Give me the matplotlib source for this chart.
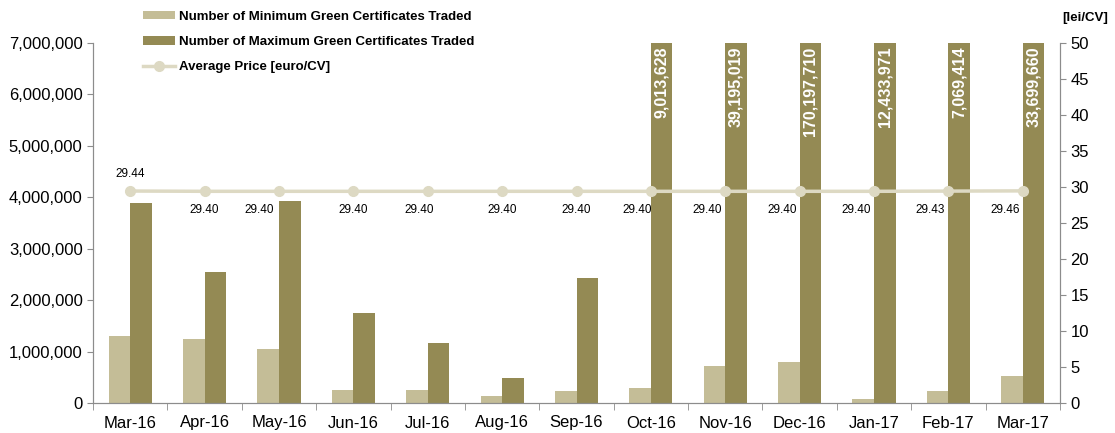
import numpy as np
import matplotlib
matplotlib.use("Agg")
import matplotlib.pyplot as plt

plt.rcParams['font.family'] = ['Liberation Sans', 'DejaVu Sans']

# data
months = ["Mar-16", "Apr-16", "May-16", "Jun-16", "Jul-16", "Aug-16", "Sep-16",
          "Oct-16", "Nov-16", "Dec-16", "Jan-17", "Feb-17", "Mar-17"]
min_traded = [1300000, 1240000, 1050000, 250000, 250000, 140000, 240000,
              300000, 720000, 800000, 80000, 240000, 530000]
max_traded = [3880000, 2540000, 3920000, 1750000, 1160000, 490000, 2430000,
              9013628, 39195019, 170197710, 12433971, 7069414, 33699660]
avg_price = [29.44, 29.40, 29.40, 29.40, 29.40, 29.40, 29.40,
             29.40, 29.40, 29.40, 29.40, 29.43, 29.46]

# label shifts (pixels) so the price labels dodge the tall bars
label_dx = [0, 0, -20, 0, -9, 0, 0, -14, -18, -17, -18, -18, -18]

c_min = '#C4BD97'
c_max = '#948A54'
c_line = '#DDD9C3'
grey = '#8C8C8C'

ymax = 7000000
x = np.arange(len(months))
w = 0.29

fig = plt.figure(figsize=(11.15, 4.33), dpi=100)
ax = fig.add_axes([93/1115, 30/433, (1060-93)/1115, (403-43)/433])

ax.bar(x - w/2, min_traded, w, color=c_min, label='Number of Minimum Green Certificates Traded', zorder=2)
ax.bar(x + w/2, max_traded, w, color=c_max, label='Number of Maximum Green Certificates Traded', zorder=2)

for i in range(len(months)):
    if max_traded[i] > ymax:
        ax.text(x[i] + w/2, 0.99, f"{max_traded[i]:,}", transform=ax.get_xaxis_transform(),
                rotation=90, ha='center', va='top', color='white', fontsize=11.5,
                fontweight='bold', zorder=5)

ax.set_ylim(0, ymax)
ax.set_xlim(-0.5, len(months) - 0.5)
ax.set_yticks(np.arange(0, ymax + 1, 1000000))
ax.set_yticklabels([f"{v:,}" for v in range(0, ymax + 1, 1000000)])
ax.set_xticks(x)
ax.set_xticklabels(months)
ax.set_xticks(np.arange(-0.5, len(months)), minor=True)
ax.tick_params(axis='x', which='major', length=0, labelsize=12, pad=9)
ax.tick_params(axis='x', which='minor', length=5, color=grey, direction='out')
ax.tick_params(axis='y', labelsize=12, length=4, color=grey)

ax2 = ax.twinx()
ax2.plot(x, avg_price, color=c_line, lw=2.5, marker='o', markersize=7,
         label='Average Price [euro/CV]', zorder=3)
ax2.set_ylim(0, 50)
ax2.set_yticks(np.arange(0, 51, 5))
ax2.tick_params(axis='y', labelsize=12, length=4, color=grey)

for i, v in enumerate(avg_price):
    if i == 0:
        ax2.annotate(f"{v:.2f}", (x[i], v), xytext=(0, 11), textcoords='offset pixels',
                     ha='center', va='bottom', fontsize=8.5)
    else:
        ax2.annotate(f"{v:.2f}", (x[i], v), xytext=(label_dx[i], -19), textcoords='offset pixels',
                     ha='center', va='center', fontsize=8.5)

for a in (ax, ax2):
    a.spines['top'].set_visible(False)
    for s in ('left', 'right', 'bottom'):
        a.spines[s].set_color(grey)

fig.text(1085/1115, 1 - 18/433, '[lei/CV]', ha='center', va='center', fontsize=9.5, fontweight='bold')

h1, l1 = ax.get_legend_handles_labels()
h2, l2 = ax2.get_legend_handles_labels()
leg = fig.legend(h1 + h2, l1 + l2, loc='upper left', bbox_to_anchor=(135/1115, 1 - 3/433),
                 frameon=False, prop={'size': 9.5, 'weight': 'bold'},
                 handlelength=2.4, handleheight=0.6, handletextpad=0.3,
                 labelspacing=1.0, borderaxespad=0.2)

fig.savefig('out.png', dpi=100)
